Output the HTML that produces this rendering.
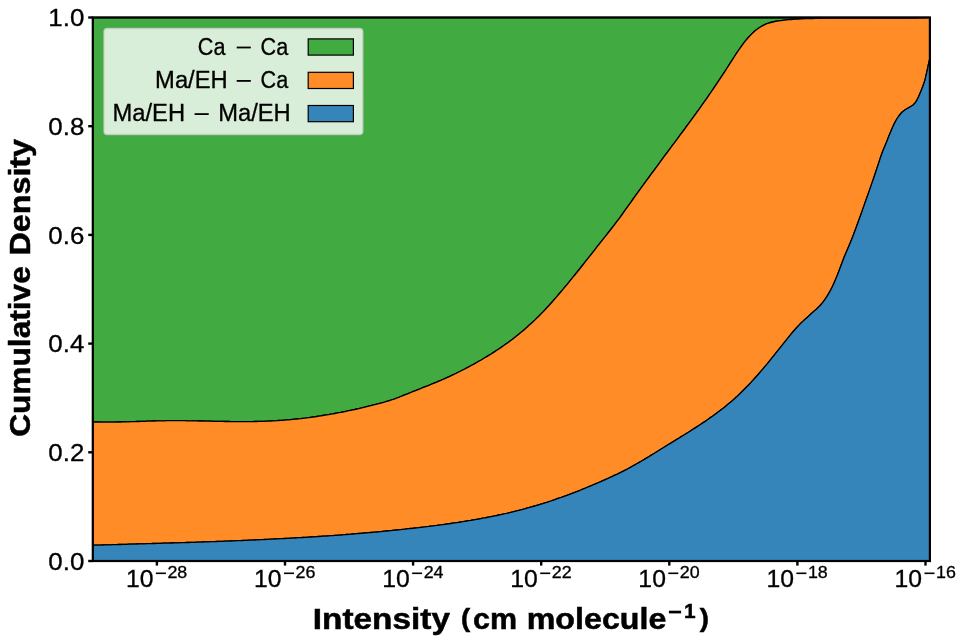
<!DOCTYPE html>
<html><head><meta charset="utf-8"><title>Cumulative Density</title>
<style>html,body{margin:0;padding:0;background:#fff;overflow:hidden}svg{display:block;will-change:transform}text{fill:#000}</style>
</head><body>
<svg width="966" height="644" viewBox="0 0 966 644">
<rect x="0" y="0" width="966" height="644" fill="#ffffff"/>
<path d="M92.8,17.5 L929.9,17.5 L929.9,17.6 L928.8,17.6 L926.8,17.7 L924.8,17.8 L922.8,17.8 L920.8,17.9 L918.8,17.9 L916.8,18.0 L914.8,18.0 L912.8,18.0 L910.8,18.1 L908.8,18.1 L906.8,18.1 L904.8,18.1 L902.8,18.2 L900.8,18.2 L898.8,18.2 L896.8,18.2 L894.8,18.2 L892.8,18.2 L890.8,18.2 L888.8,18.2 L886.8,18.2 L884.8,18.2 L882.8,18.2 L880.8,18.2 L878.8,18.2 L876.8,18.2 L874.8,18.2 L872.8,18.1 L870.8,18.1 L868.8,18.1 L866.8,18.1 L864.8,18.1 L862.8,18.1 L860.8,18.1 L858.8,18.1 L856.8,18.1 L854.8,18.0 L852.8,18.0 L850.8,18.0 L848.8,18.0 L846.8,18.0 L844.8,18.0 L842.8,18.0 L840.8,18.0 L838.8,18.0 L836.8,18.1 L834.8,18.1 L832.8,18.1 L830.8,18.1 L828.8,18.1 L826.8,18.2 L824.8,18.2 L822.8,18.2 L820.8,18.3 L818.8,18.3 L816.8,18.4 L814.8,18.4 L812.8,18.5 L810.8,18.5 L808.8,18.6 L806.8,18.7 L804.8,18.7 L802.8,18.8 L800.8,18.9 L798.8,19.0 L796.8,19.1 L794.8,19.2 L792.8,19.4 L790.8,19.5 L788.8,19.7 L786.8,19.9 L784.8,20.1 L782.8,20.3 L780.8,20.6 L778.8,20.9 L776.8,21.2 L774.8,21.5 L772.8,22.0 L770.8,22.5 L768.8,23.0 L766.8,23.7 L764.8,24.6 L762.8,25.6 L760.8,26.7 L758.8,28.0 L756.8,29.5 L754.8,31.1 L752.8,32.9 L750.8,34.9 L748.8,37.0 L746.8,39.3 L744.8,41.7 L742.8,44.3 L740.8,47.1 L738.8,50.0 L736.8,52.9 L734.8,56.0 L732.8,59.1 L730.8,62.2 L728.8,65.3 L726.8,68.5 L724.8,71.6 L722.8,74.7 L720.8,77.7 L718.8,80.7 L716.8,83.7 L714.8,86.7 L712.8,89.6 L710.8,92.5 L708.8,95.4 L706.8,98.3 L704.8,101.1 L702.8,103.9 L700.8,106.8 L698.8,109.6 L696.8,112.3 L694.8,115.1 L692.8,117.9 L690.8,120.6 L688.8,123.3 L686.8,126.0 L684.8,128.8 L682.8,131.5 L680.8,134.2 L678.8,136.9 L676.8,139.6 L674.8,142.3 L672.8,144.9 L670.8,147.6 L668.8,150.3 L666.8,153.0 L664.8,155.7 L662.8,158.4 L660.8,161.1 L658.8,163.8 L656.8,166.6 L654.8,169.3 L652.8,172.0 L650.8,174.7 L648.8,177.5 L646.8,180.2 L644.8,182.9 L642.8,185.7 L640.8,188.4 L638.8,191.2 L636.8,193.9 L634.8,196.7 L632.8,199.5 L630.8,202.3 L628.8,205.1 L626.8,207.9 L624.8,210.7 L622.8,213.5 L620.8,216.3 L618.8,219.1 L616.8,221.7 L614.8,224.4 L612.8,226.9 L610.8,229.5 L608.8,232.0 L606.8,234.6 L604.8,237.1 L602.8,239.6 L600.8,242.2 L598.8,244.7 L596.8,247.2 L594.8,249.8 L592.8,252.3 L590.8,254.9 L588.8,257.4 L586.8,259.9 L584.8,262.4 L582.8,265.0 L580.8,267.5 L578.8,270.0 L576.8,272.5 L574.8,275.0 L572.8,277.4 L570.8,279.9 L568.8,282.3 L566.8,284.8 L564.8,287.2 L562.8,289.6 L560.8,292.0 L558.8,294.3 L556.8,296.6 L554.8,298.9 L552.8,301.2 L550.8,303.5 L548.8,305.7 L546.8,307.8 L544.8,310.0 L542.8,312.1 L540.8,314.1 L538.8,316.2 L536.8,318.1 L534.8,320.1 L532.8,322.0 L530.8,323.8 L528.8,325.6 L526.8,327.4 L524.8,329.2 L522.8,330.9 L520.8,332.6 L518.8,334.2 L516.8,335.8 L514.8,337.4 L512.8,338.9 L510.8,340.4 L508.8,341.9 L506.8,343.4 L504.8,344.8 L502.8,346.2 L500.8,347.6 L498.8,349.0 L496.8,350.3 L494.8,351.6 L492.8,352.9 L490.8,354.2 L488.8,355.4 L486.8,356.6 L484.8,357.8 L482.8,359.0 L480.8,360.2 L478.8,361.3 L476.8,362.5 L474.8,363.6 L472.8,364.7 L470.8,365.8 L468.8,366.9 L466.8,367.9 L464.8,369.0 L462.8,370.0 L460.8,371.0 L458.8,372.0 L456.8,373.0 L454.8,374.0 L452.8,374.9 L450.8,375.9 L448.8,376.8 L446.8,377.7 L444.8,378.6 L442.8,379.5 L440.8,380.4 L438.8,381.2 L436.8,382.1 L434.8,382.9 L432.8,383.7 L430.8,384.5 L428.8,385.4 L426.8,386.2 L424.8,386.9 L422.8,387.7 L420.8,388.5 L418.8,389.3 L416.8,390.1 L414.8,390.9 L412.8,391.7 L410.8,392.5 L408.8,393.3 L406.8,394.1 L404.8,394.9 L402.8,395.7 L400.8,396.5 L398.8,397.3 L396.8,398.0 L394.8,398.8 L392.8,399.5 L390.8,400.2 L388.8,400.8 L386.8,401.4 L384.8,402.0 L382.8,402.6 L380.8,403.1 L378.8,403.7 L376.8,404.2 L374.8,404.7 L372.8,405.2 L370.8,405.7 L368.8,406.2 L366.8,406.7 L364.8,407.2 L362.8,407.6 L360.8,408.1 L358.8,408.6 L356.8,409.0 L354.8,409.5 L352.8,409.9 L350.8,410.3 L348.8,410.7 L346.8,411.2 L344.8,411.6 L342.8,412.0 L340.8,412.4 L338.8,412.7 L336.8,413.1 L334.8,413.5 L332.8,413.9 L330.8,414.2 L328.8,414.6 L326.8,414.9 L324.8,415.2 L322.8,415.5 L320.8,415.9 L318.8,416.2 L316.8,416.5 L314.8,416.8 L312.8,417.0 L310.8,417.3 L308.8,417.6 L306.8,417.8 L304.8,418.1 L302.8,418.3 L300.8,418.6 L298.8,418.8 L296.8,419.0 L294.8,419.2 L292.8,419.4 L290.8,419.6 L288.8,419.8 L286.8,419.9 L284.8,420.1 L282.8,420.3 L280.8,420.4 L278.8,420.5 L276.8,420.7 L274.8,420.8 L272.8,420.9 L270.8,421.0 L268.8,421.1 L266.8,421.2 L264.8,421.3 L262.8,421.3 L260.8,421.4 L258.8,421.4 L256.8,421.5 L254.8,421.5 L252.8,421.6 L250.8,421.6 L248.8,421.6 L246.8,421.6 L244.8,421.6 L242.8,421.6 L240.8,421.6 L238.8,421.6 L236.8,421.6 L234.8,421.6 L232.8,421.6 L230.8,421.6 L228.8,421.5 L226.8,421.5 L224.8,421.5 L222.8,421.4 L220.8,421.4 L218.8,421.4 L216.8,421.3 L214.8,421.3 L212.8,421.3 L210.8,421.2 L208.8,421.2 L206.8,421.1 L204.8,421.1 L202.8,421.0 L200.8,421.0 L198.8,421.0 L196.8,420.9 L194.8,420.9 L192.8,420.9 L190.8,420.8 L188.8,420.8 L186.8,420.8 L184.8,420.7 L182.8,420.7 L180.8,420.7 L178.8,420.7 L176.8,420.7 L174.8,420.7 L172.8,420.7 L170.8,420.7 L168.8,420.7 L166.8,420.7 L164.8,420.8 L162.8,420.8 L160.8,420.8 L158.8,420.9 L156.8,420.9 L154.8,421.0 L152.8,421.0 L150.8,421.1 L148.8,421.1 L146.8,421.2 L144.8,421.3 L142.8,421.3 L140.8,421.4 L138.8,421.5 L136.8,421.5 L134.8,421.6 L132.8,421.6 L130.8,421.7 L128.8,421.8 L126.8,421.8 L124.8,421.9 L122.8,421.9 L120.8,422.0 L118.8,422.0 L116.8,422.0 L114.8,422.1 L112.8,422.1 L110.8,422.1 L108.8,422.1 L106.8,422.1 L104.8,422.1 L102.8,422.1 L100.8,422.1 L98.8,422.0 L96.8,422.0 L94.8,422.0 L92.8,421.9 Z" fill="#41aa41" stroke="#000" stroke-width="1.3" stroke-linejoin="round"/>
<path d="M92.8,421.9 L94.8,422.0 L96.8,422.0 L98.8,422.0 L100.8,422.1 L102.8,422.1 L104.8,422.1 L106.8,422.1 L108.8,422.1 L110.8,422.1 L112.8,422.1 L114.8,422.1 L116.8,422.0 L118.8,422.0 L120.8,422.0 L122.8,421.9 L124.8,421.9 L126.8,421.8 L128.8,421.8 L130.8,421.7 L132.8,421.6 L134.8,421.6 L136.8,421.5 L138.8,421.5 L140.8,421.4 L142.8,421.3 L144.8,421.3 L146.8,421.2 L148.8,421.1 L150.8,421.1 L152.8,421.0 L154.8,421.0 L156.8,420.9 L158.8,420.9 L160.8,420.8 L162.8,420.8 L164.8,420.8 L166.8,420.7 L168.8,420.7 L170.8,420.7 L172.8,420.7 L174.8,420.7 L176.8,420.7 L178.8,420.7 L180.8,420.7 L182.8,420.7 L184.8,420.7 L186.8,420.8 L188.8,420.8 L190.8,420.8 L192.8,420.9 L194.8,420.9 L196.8,420.9 L198.8,421.0 L200.8,421.0 L202.8,421.0 L204.8,421.1 L206.8,421.1 L208.8,421.2 L210.8,421.2 L212.8,421.3 L214.8,421.3 L216.8,421.3 L218.8,421.4 L220.8,421.4 L222.8,421.4 L224.8,421.5 L226.8,421.5 L228.8,421.5 L230.8,421.6 L232.8,421.6 L234.8,421.6 L236.8,421.6 L238.8,421.6 L240.8,421.6 L242.8,421.6 L244.8,421.6 L246.8,421.6 L248.8,421.6 L250.8,421.6 L252.8,421.6 L254.8,421.5 L256.8,421.5 L258.8,421.4 L260.8,421.4 L262.8,421.3 L264.8,421.3 L266.8,421.2 L268.8,421.1 L270.8,421.0 L272.8,420.9 L274.8,420.8 L276.8,420.7 L278.8,420.5 L280.8,420.4 L282.8,420.3 L284.8,420.1 L286.8,419.9 L288.8,419.8 L290.8,419.6 L292.8,419.4 L294.8,419.2 L296.8,419.0 L298.8,418.8 L300.8,418.6 L302.8,418.3 L304.8,418.1 L306.8,417.8 L308.8,417.6 L310.8,417.3 L312.8,417.0 L314.8,416.8 L316.8,416.5 L318.8,416.2 L320.8,415.9 L322.8,415.5 L324.8,415.2 L326.8,414.9 L328.8,414.6 L330.8,414.2 L332.8,413.9 L334.8,413.5 L336.8,413.1 L338.8,412.7 L340.8,412.4 L342.8,412.0 L344.8,411.6 L346.8,411.2 L348.8,410.7 L350.8,410.3 L352.8,409.9 L354.8,409.5 L356.8,409.0 L358.8,408.6 L360.8,408.1 L362.8,407.6 L364.8,407.2 L366.8,406.7 L368.8,406.2 L370.8,405.7 L372.8,405.2 L374.8,404.7 L376.8,404.2 L378.8,403.7 L380.8,403.1 L382.8,402.6 L384.8,402.0 L386.8,401.4 L388.8,400.8 L390.8,400.2 L392.8,399.5 L394.8,398.8 L396.8,398.0 L398.8,397.3 L400.8,396.5 L402.8,395.7 L404.8,394.9 L406.8,394.1 L408.8,393.3 L410.8,392.5 L412.8,391.7 L414.8,390.9 L416.8,390.1 L418.8,389.3 L420.8,388.5 L422.8,387.7 L424.8,386.9 L426.8,386.2 L428.8,385.4 L430.8,384.5 L432.8,383.7 L434.8,382.9 L436.8,382.1 L438.8,381.2 L440.8,380.4 L442.8,379.5 L444.8,378.6 L446.8,377.7 L448.8,376.8 L450.8,375.9 L452.8,374.9 L454.8,374.0 L456.8,373.0 L458.8,372.0 L460.8,371.0 L462.8,370.0 L464.8,369.0 L466.8,367.9 L468.8,366.9 L470.8,365.8 L472.8,364.7 L474.8,363.6 L476.8,362.5 L478.8,361.3 L480.8,360.2 L482.8,359.0 L484.8,357.8 L486.8,356.6 L488.8,355.4 L490.8,354.2 L492.8,352.9 L494.8,351.6 L496.8,350.3 L498.8,349.0 L500.8,347.6 L502.8,346.2 L504.8,344.8 L506.8,343.4 L508.8,341.9 L510.8,340.4 L512.8,338.9 L514.8,337.4 L516.8,335.8 L518.8,334.2 L520.8,332.6 L522.8,330.9 L524.8,329.2 L526.8,327.4 L528.8,325.6 L530.8,323.8 L532.8,322.0 L534.8,320.1 L536.8,318.1 L538.8,316.2 L540.8,314.1 L542.8,312.1 L544.8,310.0 L546.8,307.8 L548.8,305.7 L550.8,303.5 L552.8,301.2 L554.8,298.9 L556.8,296.6 L558.8,294.3 L560.8,292.0 L562.8,289.6 L564.8,287.2 L566.8,284.8 L568.8,282.3 L570.8,279.9 L572.8,277.4 L574.8,275.0 L576.8,272.5 L578.8,270.0 L580.8,267.5 L582.8,265.0 L584.8,262.4 L586.8,259.9 L588.8,257.4 L590.8,254.9 L592.8,252.3 L594.8,249.8 L596.8,247.2 L598.8,244.7 L600.8,242.2 L602.8,239.6 L604.8,237.1 L606.8,234.6 L608.8,232.0 L610.8,229.5 L612.8,226.9 L614.8,224.4 L616.8,221.7 L618.8,219.1 L620.8,216.3 L622.8,213.5 L624.8,210.7 L626.8,207.9 L628.8,205.1 L630.8,202.3 L632.8,199.5 L634.8,196.7 L636.8,193.9 L638.8,191.2 L640.8,188.4 L642.8,185.7 L644.8,182.9 L646.8,180.2 L648.8,177.5 L650.8,174.7 L652.8,172.0 L654.8,169.3 L656.8,166.6 L658.8,163.8 L660.8,161.1 L662.8,158.4 L664.8,155.7 L666.8,153.0 L668.8,150.3 L670.8,147.6 L672.8,144.9 L674.8,142.3 L676.8,139.6 L678.8,136.9 L680.8,134.2 L682.8,131.5 L684.8,128.8 L686.8,126.0 L688.8,123.3 L690.8,120.6 L692.8,117.9 L694.8,115.1 L696.8,112.3 L698.8,109.6 L700.8,106.8 L702.8,103.9 L704.8,101.1 L706.8,98.3 L708.8,95.4 L710.8,92.5 L712.8,89.6 L714.8,86.7 L716.8,83.7 L718.8,80.7 L720.8,77.7 L722.8,74.7 L724.8,71.6 L726.8,68.5 L728.8,65.3 L730.8,62.2 L732.8,59.1 L734.8,56.0 L736.8,52.9 L738.8,50.0 L740.8,47.1 L742.8,44.3 L744.8,41.7 L746.8,39.3 L748.8,37.0 L750.8,34.9 L752.8,32.9 L754.8,31.1 L756.8,29.5 L758.8,28.0 L760.8,26.7 L762.8,25.6 L764.8,24.6 L766.8,23.7 L768.8,23.0 L770.8,22.5 L772.8,22.0 L774.8,21.5 L776.8,21.2 L778.8,20.9 L780.8,20.6 L782.8,20.3 L784.8,20.1 L786.8,19.9 L788.8,19.7 L790.8,19.5 L792.8,19.4 L794.8,19.2 L796.8,19.1 L798.8,19.0 L800.8,18.9 L802.8,18.8 L804.8,18.7 L806.8,18.7 L808.8,18.6 L810.8,18.5 L812.8,18.5 L814.8,18.4 L816.8,18.4 L818.8,18.3 L820.8,18.3 L822.8,18.2 L824.8,18.2 L826.8,18.2 L828.8,18.1 L830.8,18.1 L832.8,18.1 L834.8,18.1 L836.8,18.1 L838.8,18.0 L840.8,18.0 L842.8,18.0 L844.8,18.0 L846.8,18.0 L848.8,18.0 L850.8,18.0 L852.8,18.0 L854.8,18.0 L856.8,18.1 L858.8,18.1 L860.8,18.1 L862.8,18.1 L864.8,18.1 L866.8,18.1 L868.8,18.1 L870.8,18.1 L872.8,18.1 L874.8,18.2 L876.8,18.2 L878.8,18.2 L880.8,18.2 L882.8,18.2 L884.8,18.2 L886.8,18.2 L888.8,18.2 L890.8,18.2 L892.8,18.2 L894.8,18.2 L896.8,18.2 L898.8,18.2 L900.8,18.2 L902.8,18.2 L904.8,18.1 L906.8,18.1 L908.8,18.1 L910.8,18.1 L912.8,18.0 L914.8,18.0 L916.8,18.0 L918.8,17.9 L920.8,17.9 L922.8,17.8 L924.8,17.8 L926.8,17.7 L928.8,17.6 L929.9,17.6 L929.9,58.5 L928.8,62.7 L926.8,72.2 L924.8,80.8 L922.8,86.5 L920.8,91.5 L918.8,96.3 L916.8,100.4 L914.8,103.3 L912.8,105.2 L910.8,106.5 L908.8,107.6 L906.8,108.7 L904.8,110.0 L902.8,111.5 L900.8,113.5 L898.8,116.0 L896.8,119.0 L894.8,122.6 L892.8,126.7 L890.8,131.4 L888.8,136.3 L886.8,141.4 L884.8,146.2 L882.8,151.0 L880.8,156.5 L878.8,162.6 L876.8,168.7 L874.8,174.8 L872.8,180.6 L870.8,186.4 L868.8,192.1 L866.8,197.8 L864.8,203.4 L862.8,209.1 L860.8,214.7 L858.8,220.2 L856.8,225.8 L854.8,231.2 L852.8,236.6 L850.8,241.6 L848.8,246.3 L846.8,250.9 L844.8,255.6 L842.8,260.8 L840.8,266.1 L838.8,271.4 L836.8,276.5 L834.8,281.2 L832.8,285.7 L830.8,289.7 L828.8,293.4 L826.8,296.7 L824.8,299.7 L822.8,302.4 L820.8,304.7 L818.8,306.8 L816.8,308.7 L814.8,310.6 L812.8,312.3 L810.8,314.1 L808.8,315.9 L806.8,317.7 L804.8,319.5 L802.8,321.4 L800.8,323.3 L798.8,325.4 L796.8,327.5 L794.8,329.7 L792.8,332.0 L790.8,334.4 L788.8,336.8 L786.8,339.3 L784.8,341.8 L782.8,344.3 L780.8,346.9 L778.8,349.4 L776.8,351.9 L774.8,354.4 L772.8,356.9 L770.8,359.4 L768.8,361.9 L766.8,364.3 L764.8,366.7 L762.8,369.1 L760.8,371.4 L758.8,373.7 L756.8,376.0 L754.8,378.2 L752.8,380.4 L750.8,382.6 L748.8,384.7 L746.8,386.8 L744.8,388.8 L742.8,390.8 L740.8,392.8 L738.8,394.7 L736.8,396.6 L734.8,398.4 L732.8,400.2 L730.8,401.9 L728.8,403.6 L726.8,405.3 L724.8,406.9 L722.8,408.5 L720.8,410.0 L718.8,411.6 L716.8,413.1 L714.8,414.5 L712.8,416.0 L710.8,417.4 L708.8,418.8 L706.8,420.2 L704.8,421.6 L702.8,422.9 L700.8,424.2 L698.8,425.5 L696.8,426.9 L694.8,428.1 L692.8,429.4 L690.8,430.7 L688.8,432.0 L686.8,433.2 L684.8,434.5 L682.8,435.7 L680.8,436.9 L678.8,438.2 L676.8,439.4 L674.8,440.6 L672.8,441.9 L670.8,443.1 L668.8,444.3 L666.8,445.5 L664.8,446.8 L662.8,448.0 L660.8,449.2 L658.8,450.5 L656.8,451.7 L654.8,453.0 L652.8,454.2 L650.8,455.4 L648.8,456.7 L646.8,457.9 L644.8,459.1 L642.8,460.3 L640.8,461.5 L638.8,462.6 L636.8,463.8 L634.8,464.9 L632.8,466.0 L630.8,467.1 L628.8,468.2 L626.8,469.3 L624.8,470.3 L622.8,471.3 L620.8,472.3 L618.8,473.3 L616.8,474.3 L614.8,475.2 L612.8,476.2 L610.8,477.1 L608.8,478.0 L606.8,478.9 L604.8,479.8 L602.8,480.7 L600.8,481.6 L598.8,482.5 L596.8,483.3 L594.8,484.2 L592.8,485.0 L590.8,485.9 L588.8,486.7 L586.8,487.5 L584.8,488.4 L582.8,489.2 L580.8,490.0 L578.8,490.8 L576.8,491.6 L574.8,492.3 L572.8,493.1 L570.8,493.9 L568.8,494.6 L566.8,495.4 L564.8,496.1 L562.8,496.8 L560.8,497.5 L558.8,498.2 L556.8,498.9 L554.8,499.6 L552.8,500.3 L550.8,501.0 L548.8,501.6 L546.8,502.3 L544.8,502.9 L542.8,503.6 L540.8,504.2 L538.8,504.8 L536.8,505.4 L534.8,506.0 L532.8,506.5 L530.8,507.1 L528.8,507.7 L526.8,508.2 L524.8,508.8 L522.8,509.3 L520.8,509.8 L518.8,510.3 L516.8,510.8 L514.8,511.3 L512.8,511.8 L510.8,512.3 L508.8,512.8 L506.8,513.3 L504.8,513.7 L502.8,514.2 L500.8,514.6 L498.8,515.0 L496.8,515.5 L494.8,515.9 L492.8,516.3 L490.8,516.7 L488.8,517.1 L486.8,517.5 L484.8,517.9 L482.8,518.2 L480.8,518.6 L478.8,519.0 L476.8,519.3 L474.8,519.7 L472.8,520.0 L470.8,520.4 L468.8,520.7 L466.8,521.0 L464.8,521.3 L462.8,521.7 L460.8,522.0 L458.8,522.3 L456.8,522.6 L454.8,522.9 L452.8,523.2 L450.8,523.5 L448.8,523.8 L446.8,524.0 L444.8,524.3 L442.8,524.6 L440.8,524.8 L438.8,525.1 L436.8,525.4 L434.8,525.6 L432.8,525.9 L430.8,526.1 L428.8,526.4 L426.8,526.6 L424.8,526.9 L422.8,527.1 L420.8,527.3 L418.8,527.6 L416.8,527.8 L414.8,528.0 L412.8,528.3 L410.8,528.5 L408.8,528.7 L406.8,528.9 L404.8,529.2 L402.8,529.4 L400.8,529.6 L398.8,529.8 L396.8,530.0 L394.8,530.2 L392.8,530.4 L390.8,530.6 L388.8,530.8 L386.8,531.0 L384.8,531.2 L382.8,531.4 L380.8,531.6 L378.8,531.8 L376.8,532.0 L374.8,532.1 L372.8,532.3 L370.8,532.5 L368.8,532.7 L366.8,532.9 L364.8,533.0 L362.8,533.2 L360.8,533.4 L358.8,533.5 L356.8,533.7 L354.8,533.9 L352.8,534.0 L350.8,534.2 L348.8,534.3 L346.8,534.5 L344.8,534.7 L342.8,534.8 L340.8,535.0 L338.8,535.1 L336.8,535.3 L334.8,535.4 L332.8,535.6 L330.8,535.7 L328.8,535.8 L326.8,536.0 L324.8,536.1 L322.8,536.2 L320.8,536.4 L318.8,536.5 L316.8,536.6 L314.8,536.8 L312.8,536.9 L310.8,537.0 L308.8,537.1 L306.8,537.3 L304.8,537.4 L302.8,537.5 L300.8,537.6 L298.8,537.7 L296.8,537.9 L294.8,538.0 L292.8,538.1 L290.8,538.2 L288.8,538.3 L286.8,538.4 L284.8,538.5 L282.8,538.6 L280.8,538.7 L278.8,538.8 L276.8,538.9 L274.8,539.0 L272.8,539.1 L270.8,539.2 L268.8,539.3 L266.8,539.4 L264.8,539.5 L262.8,539.6 L260.8,539.7 L258.8,539.8 L256.8,539.9 L254.8,540.0 L252.8,540.1 L250.8,540.2 L248.8,540.2 L246.8,540.3 L244.8,540.4 L242.8,540.5 L240.8,540.6 L238.8,540.7 L236.8,540.7 L234.8,540.8 L232.8,540.9 L230.8,541.0 L228.8,541.1 L226.8,541.1 L224.8,541.2 L222.8,541.3 L220.8,541.4 L218.8,541.4 L216.8,541.5 L214.8,541.6 L212.8,541.6 L210.8,541.7 L208.8,541.8 L206.8,541.9 L204.8,541.9 L202.8,542.0 L200.8,542.1 L198.8,542.1 L196.8,542.2 L194.8,542.3 L192.8,542.3 L190.8,542.4 L188.8,542.5 L186.8,542.5 L184.8,542.6 L182.8,542.6 L180.8,542.7 L178.8,542.8 L176.8,542.8 L174.8,542.9 L172.8,543.0 L170.8,543.0 L168.8,543.1 L166.8,543.1 L164.8,543.2 L162.8,543.2 L160.8,543.3 L158.8,543.4 L156.8,543.4 L154.8,543.5 L152.8,543.5 L150.8,543.6 L148.8,543.7 L146.8,543.7 L144.8,543.8 L142.8,543.8 L140.8,543.9 L138.8,543.9 L136.8,544.0 L134.8,544.1 L132.8,544.1 L130.8,544.2 L128.8,544.2 L126.8,544.3 L124.8,544.4 L122.8,544.4 L120.8,544.5 L118.8,544.5 L116.8,544.6 L114.8,544.6 L112.8,544.7 L110.8,544.8 L108.8,544.8 L106.8,544.9 L104.8,544.9 L102.8,545.0 L100.8,545.1 L98.8,545.1 L96.8,545.2 L94.8,545.2 L92.8,545.3 Z" fill="#ff8c26" stroke="#000" stroke-width="1.3" stroke-linejoin="round"/>
<path d="M92.8,545.3 L94.8,545.2 L96.8,545.2 L98.8,545.1 L100.8,545.1 L102.8,545.0 L104.8,544.9 L106.8,544.9 L108.8,544.8 L110.8,544.8 L112.8,544.7 L114.8,544.6 L116.8,544.6 L118.8,544.5 L120.8,544.5 L122.8,544.4 L124.8,544.4 L126.8,544.3 L128.8,544.2 L130.8,544.2 L132.8,544.1 L134.8,544.1 L136.8,544.0 L138.8,543.9 L140.8,543.9 L142.8,543.8 L144.8,543.8 L146.8,543.7 L148.8,543.7 L150.8,543.6 L152.8,543.5 L154.8,543.5 L156.8,543.4 L158.8,543.4 L160.8,543.3 L162.8,543.2 L164.8,543.2 L166.8,543.1 L168.8,543.1 L170.8,543.0 L172.8,543.0 L174.8,542.9 L176.8,542.8 L178.8,542.8 L180.8,542.7 L182.8,542.6 L184.8,542.6 L186.8,542.5 L188.8,542.5 L190.8,542.4 L192.8,542.3 L194.8,542.3 L196.8,542.2 L198.8,542.1 L200.8,542.1 L202.8,542.0 L204.8,541.9 L206.8,541.9 L208.8,541.8 L210.8,541.7 L212.8,541.6 L214.8,541.6 L216.8,541.5 L218.8,541.4 L220.8,541.4 L222.8,541.3 L224.8,541.2 L226.8,541.1 L228.8,541.1 L230.8,541.0 L232.8,540.9 L234.8,540.8 L236.8,540.7 L238.8,540.7 L240.8,540.6 L242.8,540.5 L244.8,540.4 L246.8,540.3 L248.8,540.2 L250.8,540.2 L252.8,540.1 L254.8,540.0 L256.8,539.9 L258.8,539.8 L260.8,539.7 L262.8,539.6 L264.8,539.5 L266.8,539.4 L268.8,539.3 L270.8,539.2 L272.8,539.1 L274.8,539.0 L276.8,538.9 L278.8,538.8 L280.8,538.7 L282.8,538.6 L284.8,538.5 L286.8,538.4 L288.8,538.3 L290.8,538.2 L292.8,538.1 L294.8,538.0 L296.8,537.9 L298.8,537.7 L300.8,537.6 L302.8,537.5 L304.8,537.4 L306.8,537.3 L308.8,537.1 L310.8,537.0 L312.8,536.9 L314.8,536.8 L316.8,536.6 L318.8,536.5 L320.8,536.4 L322.8,536.2 L324.8,536.1 L326.8,536.0 L328.8,535.8 L330.8,535.7 L332.8,535.6 L334.8,535.4 L336.8,535.3 L338.8,535.1 L340.8,535.0 L342.8,534.8 L344.8,534.7 L346.8,534.5 L348.8,534.3 L350.8,534.2 L352.8,534.0 L354.8,533.9 L356.8,533.7 L358.8,533.5 L360.8,533.4 L362.8,533.2 L364.8,533.0 L366.8,532.9 L368.8,532.7 L370.8,532.5 L372.8,532.3 L374.8,532.1 L376.8,532.0 L378.8,531.8 L380.8,531.6 L382.8,531.4 L384.8,531.2 L386.8,531.0 L388.8,530.8 L390.8,530.6 L392.8,530.4 L394.8,530.2 L396.8,530.0 L398.8,529.8 L400.8,529.6 L402.8,529.4 L404.8,529.2 L406.8,528.9 L408.8,528.7 L410.8,528.5 L412.8,528.3 L414.8,528.0 L416.8,527.8 L418.8,527.6 L420.8,527.3 L422.8,527.1 L424.8,526.9 L426.8,526.6 L428.8,526.4 L430.8,526.1 L432.8,525.9 L434.8,525.6 L436.8,525.4 L438.8,525.1 L440.8,524.8 L442.8,524.6 L444.8,524.3 L446.8,524.0 L448.8,523.8 L450.8,523.5 L452.8,523.2 L454.8,522.9 L456.8,522.6 L458.8,522.3 L460.8,522.0 L462.8,521.7 L464.8,521.3 L466.8,521.0 L468.8,520.7 L470.8,520.4 L472.8,520.0 L474.8,519.7 L476.8,519.3 L478.8,519.0 L480.8,518.6 L482.8,518.2 L484.8,517.9 L486.8,517.5 L488.8,517.1 L490.8,516.7 L492.8,516.3 L494.8,515.9 L496.8,515.5 L498.8,515.0 L500.8,514.6 L502.8,514.2 L504.8,513.7 L506.8,513.3 L508.8,512.8 L510.8,512.3 L512.8,511.8 L514.8,511.3 L516.8,510.8 L518.8,510.3 L520.8,509.8 L522.8,509.3 L524.8,508.8 L526.8,508.2 L528.8,507.7 L530.8,507.1 L532.8,506.5 L534.8,506.0 L536.8,505.4 L538.8,504.8 L540.8,504.2 L542.8,503.6 L544.8,502.9 L546.8,502.3 L548.8,501.6 L550.8,501.0 L552.8,500.3 L554.8,499.6 L556.8,498.9 L558.8,498.2 L560.8,497.5 L562.8,496.8 L564.8,496.1 L566.8,495.4 L568.8,494.6 L570.8,493.9 L572.8,493.1 L574.8,492.3 L576.8,491.6 L578.8,490.8 L580.8,490.0 L582.8,489.2 L584.8,488.4 L586.8,487.5 L588.8,486.7 L590.8,485.9 L592.8,485.0 L594.8,484.2 L596.8,483.3 L598.8,482.5 L600.8,481.6 L602.8,480.7 L604.8,479.8 L606.8,478.9 L608.8,478.0 L610.8,477.1 L612.8,476.2 L614.8,475.2 L616.8,474.3 L618.8,473.3 L620.8,472.3 L622.8,471.3 L624.8,470.3 L626.8,469.3 L628.8,468.2 L630.8,467.1 L632.8,466.0 L634.8,464.9 L636.8,463.8 L638.8,462.6 L640.8,461.5 L642.8,460.3 L644.8,459.1 L646.8,457.9 L648.8,456.7 L650.8,455.4 L652.8,454.2 L654.8,453.0 L656.8,451.7 L658.8,450.5 L660.8,449.2 L662.8,448.0 L664.8,446.8 L666.8,445.5 L668.8,444.3 L670.8,443.1 L672.8,441.9 L674.8,440.6 L676.8,439.4 L678.8,438.2 L680.8,436.9 L682.8,435.7 L684.8,434.5 L686.8,433.2 L688.8,432.0 L690.8,430.7 L692.8,429.4 L694.8,428.1 L696.8,426.9 L698.8,425.5 L700.8,424.2 L702.8,422.9 L704.8,421.6 L706.8,420.2 L708.8,418.8 L710.8,417.4 L712.8,416.0 L714.8,414.5 L716.8,413.1 L718.8,411.6 L720.8,410.0 L722.8,408.5 L724.8,406.9 L726.8,405.3 L728.8,403.6 L730.8,401.9 L732.8,400.2 L734.8,398.4 L736.8,396.6 L738.8,394.7 L740.8,392.8 L742.8,390.8 L744.8,388.8 L746.8,386.8 L748.8,384.7 L750.8,382.6 L752.8,380.4 L754.8,378.2 L756.8,376.0 L758.8,373.7 L760.8,371.4 L762.8,369.1 L764.8,366.7 L766.8,364.3 L768.8,361.9 L770.8,359.4 L772.8,356.9 L774.8,354.4 L776.8,351.9 L778.8,349.4 L780.8,346.9 L782.8,344.3 L784.8,341.8 L786.8,339.3 L788.8,336.8 L790.8,334.4 L792.8,332.0 L794.8,329.7 L796.8,327.5 L798.8,325.4 L800.8,323.3 L802.8,321.4 L804.8,319.5 L806.8,317.7 L808.8,315.9 L810.8,314.1 L812.8,312.3 L814.8,310.6 L816.8,308.7 L818.8,306.8 L820.8,304.7 L822.8,302.4 L824.8,299.7 L826.8,296.7 L828.8,293.4 L830.8,289.7 L832.8,285.7 L834.8,281.2 L836.8,276.5 L838.8,271.4 L840.8,266.1 L842.8,260.8 L844.8,255.6 L846.8,250.9 L848.8,246.3 L850.8,241.6 L852.8,236.6 L854.8,231.2 L856.8,225.8 L858.8,220.2 L860.8,214.7 L862.8,209.1 L864.8,203.4 L866.8,197.8 L868.8,192.1 L870.8,186.4 L872.8,180.6 L874.8,174.8 L876.8,168.7 L878.8,162.6 L880.8,156.5 L882.8,151.0 L884.8,146.2 L886.8,141.4 L888.8,136.3 L890.8,131.4 L892.8,126.7 L894.8,122.6 L896.8,119.0 L898.8,116.0 L900.8,113.5 L902.8,111.5 L904.8,110.0 L906.8,108.7 L908.8,107.6 L910.8,106.5 L912.8,105.2 L914.8,103.3 L916.8,100.4 L918.8,96.3 L920.8,91.5 L922.8,86.5 L924.8,80.8 L926.8,72.2 L928.8,62.7 L929.9,58.5 L929.9,561.0 L92.8,561.0 Z" fill="#3585bb" stroke="#000" stroke-width="1.3" stroke-linejoin="round"/>
<line x1="156.90" y1="561.0" x2="156.90" y2="565.6" stroke="#000" stroke-width="2.4"/>
<line x1="285.00" y1="561.0" x2="285.00" y2="565.6" stroke="#000" stroke-width="2.4"/>
<line x1="413.10" y1="561.0" x2="413.10" y2="565.6" stroke="#000" stroke-width="2.4"/>
<line x1="541.20" y1="561.0" x2="541.20" y2="565.6" stroke="#000" stroke-width="2.4"/>
<line x1="669.30" y1="561.0" x2="669.30" y2="565.6" stroke="#000" stroke-width="2.4"/>
<line x1="797.40" y1="561.0" x2="797.40" y2="565.6" stroke="#000" stroke-width="2.4"/>
<line x1="925.50" y1="561.0" x2="925.50" y2="565.6" stroke="#000" stroke-width="2.4"/>
<line x1="88.2" y1="561.00" x2="92.8" y2="561.00" stroke="#000" stroke-width="2.4"/>
<line x1="88.2" y1="452.30" x2="92.8" y2="452.30" stroke="#000" stroke-width="2.4"/>
<line x1="88.2" y1="343.60" x2="92.8" y2="343.60" stroke="#000" stroke-width="2.4"/>
<line x1="88.2" y1="234.90" x2="92.8" y2="234.90" stroke="#000" stroke-width="2.4"/>
<line x1="88.2" y1="126.20" x2="92.8" y2="126.20" stroke="#000" stroke-width="2.4"/>
<line x1="88.2" y1="17.50" x2="92.8" y2="17.50" stroke="#000" stroke-width="2.4"/>
<rect x="92.8" y="17.5" width="837.10" height="543.50" fill="none" stroke="#000" stroke-width="2.2"/>
<text x="125.98" y="587.00" font-family="Liberation Sans, sans-serif" font-size="23.6" textLength="27.53" lengthAdjust="spacingAndGlyphs" stroke="#000" stroke-width="0.3">10</text>
<rect x="155.90" y="572.50" width="10.00" height="1.60" fill="#000"/>
<text x="167.45" y="578.30" font-family="Liberation Sans, sans-serif" font-size="15.9" textLength="19.83" lengthAdjust="spacingAndGlyphs" stroke="#000" stroke-width="0.3">28</text>
<text x="254.08" y="587.00" font-family="Liberation Sans, sans-serif" font-size="23.6" textLength="27.53" lengthAdjust="spacingAndGlyphs" stroke="#000" stroke-width="0.3">10</text>
<rect x="284.00" y="572.50" width="10.00" height="1.60" fill="#000"/>
<text x="295.55" y="578.30" font-family="Liberation Sans, sans-serif" font-size="15.9" textLength="19.83" lengthAdjust="spacingAndGlyphs" stroke="#000" stroke-width="0.3">26</text>
<text x="382.18" y="587.00" font-family="Liberation Sans, sans-serif" font-size="23.6" textLength="27.53" lengthAdjust="spacingAndGlyphs" stroke="#000" stroke-width="0.3">10</text>
<rect x="412.10" y="572.50" width="10.00" height="1.60" fill="#000"/>
<text x="423.65" y="578.30" font-family="Liberation Sans, sans-serif" font-size="15.9" textLength="19.83" lengthAdjust="spacingAndGlyphs" stroke="#000" stroke-width="0.3">24</text>
<text x="510.28" y="587.00" font-family="Liberation Sans, sans-serif" font-size="23.6" textLength="27.53" lengthAdjust="spacingAndGlyphs" stroke="#000" stroke-width="0.3">10</text>
<rect x="540.20" y="572.50" width="10.00" height="1.60" fill="#000"/>
<text x="551.75" y="578.30" font-family="Liberation Sans, sans-serif" font-size="15.9" textLength="19.83" lengthAdjust="spacingAndGlyphs" stroke="#000" stroke-width="0.3">22</text>
<text x="638.38" y="587.00" font-family="Liberation Sans, sans-serif" font-size="23.6" textLength="27.53" lengthAdjust="spacingAndGlyphs" stroke="#000" stroke-width="0.3">10</text>
<rect x="668.30" y="572.50" width="10.00" height="1.60" fill="#000"/>
<text x="679.85" y="578.30" font-family="Liberation Sans, sans-serif" font-size="15.9" textLength="19.83" lengthAdjust="spacingAndGlyphs" stroke="#000" stroke-width="0.3">20</text>
<text x="766.48" y="587.00" font-family="Liberation Sans, sans-serif" font-size="23.6" textLength="27.53" lengthAdjust="spacingAndGlyphs" stroke="#000" stroke-width="0.3">10</text>
<rect x="796.40" y="572.50" width="10.00" height="1.60" fill="#000"/>
<text x="807.95" y="578.30" font-family="Liberation Sans, sans-serif" font-size="15.9" textLength="19.83" lengthAdjust="spacingAndGlyphs" stroke="#000" stroke-width="0.3">18</text>
<text x="894.58" y="587.00" font-family="Liberation Sans, sans-serif" font-size="23.6" textLength="27.53" lengthAdjust="spacingAndGlyphs" stroke="#000" stroke-width="0.3">10</text>
<rect x="924.50" y="572.50" width="10.00" height="1.60" fill="#000"/>
<text x="936.05" y="578.30" font-family="Liberation Sans, sans-serif" font-size="15.9" textLength="19.83" lengthAdjust="spacingAndGlyphs" stroke="#000" stroke-width="0.3">16</text>
<text x="48.36" y="569.85" font-family="Liberation Sans, sans-serif" font-size="23.6" textLength="36.00" lengthAdjust="spacingAndGlyphs" stroke="#000" stroke-width="0.3">0.0</text>
<text x="48.36" y="461.15" font-family="Liberation Sans, sans-serif" font-size="23.6" textLength="36.00" lengthAdjust="spacingAndGlyphs" stroke="#000" stroke-width="0.3">0.2</text>
<text x="48.36" y="352.45" font-family="Liberation Sans, sans-serif" font-size="23.6" textLength="36.00" lengthAdjust="spacingAndGlyphs" stroke="#000" stroke-width="0.3">0.4</text>
<text x="48.36" y="243.75" font-family="Liberation Sans, sans-serif" font-size="23.6" textLength="36.00" lengthAdjust="spacingAndGlyphs" stroke="#000" stroke-width="0.3">0.6</text>
<text x="48.36" y="135.05" font-family="Liberation Sans, sans-serif" font-size="23.6" textLength="36.00" lengthAdjust="spacingAndGlyphs" stroke="#000" stroke-width="0.3">0.8</text>
<text x="48.36" y="26.35" font-family="Liberation Sans, sans-serif" font-size="23.6" textLength="36.00" lengthAdjust="spacingAndGlyphs" stroke="#000" stroke-width="0.3">1.0</text>
<text x="312.80" y="628.70" font-family="Liberation Sans, sans-serif" font-size="28.7" font-weight="bold" textLength="137.14" lengthAdjust="spacingAndGlyphs" stroke="#000" stroke-width="0.5">Intensity</text>
<text x="460.97" y="626.90" font-family="Liberation Sans, sans-serif" font-size="25.6" font-weight="bold" textLength="9.18" lengthAdjust="spacingAndGlyphs" stroke="#000" stroke-width="0.5">(</text>
<text x="473.07" y="628.70" font-family="Liberation Sans, sans-serif" font-size="28.7" font-weight="bold" textLength="44.00" lengthAdjust="spacingAndGlyphs" stroke="#000" stroke-width="0.5">cm</text>
<text x="526.76" y="628.70" font-family="Liberation Sans, sans-serif" font-size="28.7" font-weight="bold" textLength="139.55" lengthAdjust="spacingAndGlyphs" stroke="#000" stroke-width="0.5">molecule</text>
<rect x="668.90" y="610.70" width="12.20" height="2.70" fill="#000"/>
<text x="683.97" y="618.20" font-family="Liberation Sans, sans-serif" font-size="20.0" font-weight="bold" textLength="11.60" lengthAdjust="spacingAndGlyphs" stroke="#000" stroke-width="0.5">1</text>
<text x="699.82" y="626.90" font-family="Liberation Sans, sans-serif" font-size="25.6" font-weight="bold" textLength="9.20" lengthAdjust="spacingAndGlyphs" stroke="#000" stroke-width="0.5">)</text>
<text x="-0.97" y="0.00" font-family="Liberation Sans, sans-serif" font-size="28.7" font-weight="bold" textLength="170.70" lengthAdjust="spacingAndGlyphs" stroke="#000" stroke-width="0.5" transform="translate(30.3,435.9) rotate(-90)">Cumulative</text>
<text x="180.51" y="0.00" font-family="Liberation Sans, sans-serif" font-size="28.7" font-weight="bold" textLength="116.44" lengthAdjust="spacingAndGlyphs" stroke="#000" stroke-width="0.5" transform="translate(30.3,435.9) rotate(-90)">Density</text>
<rect x="104.0" y="28.5" width="258.8" height="106.0" rx="3.2" ry="3.2" fill="#ffffff" fill-opacity="0.8" stroke="#cccccc" stroke-opacity="0.8" stroke-width="1.4"/>
<rect x="236.70" y="46.60" width="14.10" height="1.80" fill="#000"/>
<rect x="308.2" y="38.9" width="45.2" height="16.2" fill="#41aa41" stroke="#000" stroke-width="1.2"/>
<rect x="236.70" y="80.00" width="14.10" height="1.80" fill="#000"/>
<rect x="308.2" y="72.3" width="45.2" height="16.2" fill="#ff8c26" stroke="#000" stroke-width="1.2"/>
<rect x="194.60" y="113.20" width="14.10" height="1.80" fill="#000"/>
<rect x="308.2" y="105.5" width="45.2" height="16.2" fill="#3585bb" stroke="#000" stroke-width="1.2"/>
<text x="197.84" y="54.50" font-family="Liberation Sans, sans-serif" font-size="23.0" textLength="27.62" lengthAdjust="spacingAndGlyphs" stroke="#000" stroke-width="0.3">Ca</text>
<text x="260.54" y="54.50" font-family="Liberation Sans, sans-serif" font-size="23.0" textLength="27.62" lengthAdjust="spacingAndGlyphs" stroke="#000" stroke-width="0.3">Ca</text>
<text x="155.11" y="87.90" font-family="Liberation Sans, sans-serif" font-size="23.0" textLength="72.55" lengthAdjust="spacingAndGlyphs" stroke="#000" stroke-width="0.3">Ma/EH</text>
<text x="260.54" y="87.90" font-family="Liberation Sans, sans-serif" font-size="23.0" textLength="27.62" lengthAdjust="spacingAndGlyphs" stroke="#000" stroke-width="0.3">Ca</text>
<text x="112.51" y="121.10" font-family="Liberation Sans, sans-serif" font-size="23.0" textLength="72.55" lengthAdjust="spacingAndGlyphs" stroke="#000" stroke-width="0.3">Ma/EH</text>
<text x="218.21" y="121.10" font-family="Liberation Sans, sans-serif" font-size="23.0" textLength="72.55" lengthAdjust="spacingAndGlyphs" stroke="#000" stroke-width="0.3">Ma/EH</text>
</svg>
</body></html>
